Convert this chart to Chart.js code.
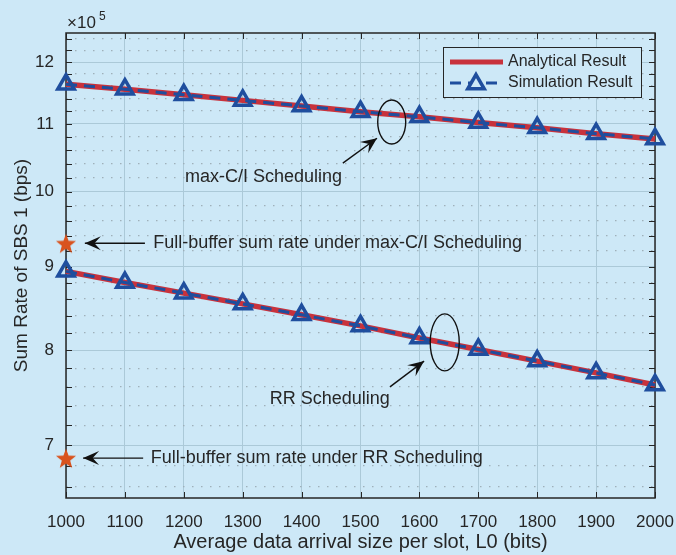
<!DOCTYPE html>
<html>
<head>
<meta charset="utf-8">
<script src="https://cdn.jsdelivr.net/npm/chart.js@4.4.1/dist/chart.umd.min.js"></script>
<style>
  html, body { margin: 0; padding: 0; background: #cde8f7; }
  #wrap { width: 676px; height: 555px; }
</style>
</head>
<body>
<div id="wrap"><canvas id="chart" width="676" height="555"></canvas></div>
<script>
// 横轴：平均每时隙到达数据量 L0 (bits)
const arrivalSizes = [1000, 1100, 1200, 1300, 1400, 1500, 1600, 1700, 1800, 1900, 2000];

// 纵轴数值（单位 ×10^5 bps）
const analyticalMaxCI = [11.63, 11.55, 11.46, 11.37, 11.28, 11.19, 11.11, 11.02, 10.94, 10.85, 10.77];
const simulationMaxCI = [11.63, 11.55, 11.46, 11.37, 11.28, 11.19, 11.11, 11.02, 10.94, 10.85, 10.77];
const analyticalRR = [8.94, 8.80, 8.67, 8.54, 8.41, 8.28, 8.14, 8.01, 7.88, 7.75, 7.62];
const simulationRR = [8.94, 8.80, 8.67, 8.54, 8.41, 8.28, 8.14, 8.01, 7.88, 7.75, 7.62];

// full-buffer 参考点（星号）
const fullBufferX = [1000, 1000];
const fullBufferY = [9.30, 6.875];

// 刻度
const yMajorTicks = [7, 8, 9, 10, 11, 12];
const yRange = [6.5, 12.5];
const xRange = [1000, 2000];

const SCALE = 1e5;
const FONT = "'Liberation Sans', Arial, Helvetica, sans-serif";
const TEXT = "#262626";
const BG = "#cde8f7";
const RED = "#c8323c";
const BLUE = "#1f4e9e";
const ORANGE = "#d9531e";

const toPts = (ys) => arrivalSizes.map((x, i) => ({ x, y: ys[i] * SCALE }));

// 注释（数据坐标）
const notes = {
    ellipses: [
        { x: 1553, y: 11.03, rx: 14, ry: 22 },
        { x: 1643, y: 8.09, rx: 14.5, ry: 28.5 }
    ],
    arrows: [
        { from: [1470, 10.41], to: [1528, 10.78] },
        { from: [1550, 7.60], to: [1608, 7.88] },
        { from: [1134, 9.30], to: [1032, 9.30] },
        { from: [1131, 6.875], to: [1029, 6.875] }
    ],
    texts: [
        { x: 1202, y: 10.21, text: "max-C/I Scheduling" },
        { x: 1346, y: 7.47, text: "RR Scheduling" },
        { x: 1148, y: 9.30, text: "Full-buffer sum rate under max-C/I Scheduling" },
        { x: 1144, y: 6.875, text: "Full-buffer sum rate under RR Scheduling" }
    ]
};

// 五角星
function makeStar(size, color) {
    const c = document.createElement("canvas");
    c.width = c.height = size;
    const g = c.getContext("2d");
    g.fillStyle = color;
    g.beginPath();
    for (let i = 0; i < 10; i++) {
        const r = i % 2 ? size * 0.2 : size * 0.48;
        const a = -Math.PI / 2 + i * Math.PI / 5;
        g.lineTo(size / 2 + r * Math.cos(a), size / 2 + r * Math.sin(a) + size * 0.05);
    }
    g.closePath();
    g.fill();
    return c;
}
const starImg = makeStar(22, ORANGE);

// 生成 y 轴刻度（主刻度 + 0.2 间隔次刻度）
const yTickValues = [];
for (let v = 66; v <= 124; v += 2) yTickValues.push(v / 10);
const isMajor = (val) => yMajorTicks.some(m => Math.abs(m * SCALE - val) < 1);

function arrowHead(ctx, x1, y1, x2, y2) {
    const ang = Math.atan2(y2 - y1, x2 - x1);
    const L = 16, W = 7;
    ctx.save();
    ctx.translate(x2, y2);
    ctx.rotate(ang);
    ctx.beginPath();
    ctx.moveTo(0, 0);
    ctx.lineTo(-L, -W);
    ctx.lineTo(-L * 0.6, 0);
    ctx.lineTo(-L, W);
    ctx.closePath();
    ctx.fill();
    ctx.restore();
}

const decor = {
    id: "decor",
    beforeDraw(chart) {
        const ctx = chart.ctx;
        ctx.save();
        ctx.fillStyle = BG;
        ctx.fillRect(0, 0, chart.width, chart.height);
        ctx.restore();
    },
    beforeDatasetsDraw(chart) {
        const { ctx, chartArea: a, scales } = chart;
        ctx.save();
        ctx.strokeStyle = TEXT;
        ctx.lineWidth = 1;
        // 内向刻度线（四边）
        const tl = 6;
        ctx.beginPath();
        scales.x.ticks.forEach(t => {
            const px = Math.round(scales.x.getPixelForValue(t.value)) + 0.5;
            ctx.moveTo(px, a.bottom); ctx.lineTo(px, a.bottom - tl);
            ctx.moveTo(px, a.top); ctx.lineTo(px, a.top + tl);
        });
        scales.y.ticks.forEach(t => {
            const py = Math.round(scales.y.getPixelForValue(t.value)) + 0.5;
            ctx.moveTo(a.left, py); ctx.lineTo(a.left + tl, py);
            ctx.moveTo(a.right, py); ctx.lineTo(a.right - tl, py);
        });
        ctx.stroke();
        // 边框
        ctx.lineWidth = 1.5;
        ctx.strokeRect(a.left, a.top, a.right - a.left, a.bottom - a.top);
        ctx.restore();
    },
    afterDraw(chart) {
        const { ctx, chartArea: a, scales } = chart;
        const px = (v) => scales.x.getPixelForValue(v);
        const py = (v) => scales.y.getPixelForValue(v * SCALE);
        ctx.save();
        ctx.strokeStyle = "#111";
        ctx.fillStyle = "#111";
        // 椭圆
        ctx.lineWidth = 1.4;
        notes.ellipses.forEach(e => {
            ctx.beginPath();
            ctx.ellipse(px(e.x), py(e.y), e.rx, e.ry, 0, 0, Math.PI * 2);
            ctx.stroke();
        });
        // 箭头
        notes.arrows.forEach(ar => {
            const x1 = px(ar.from[0]), y1 = py(ar.from[1]);
            const x2 = px(ar.to[0]), y2 = py(ar.to[1]);
            ctx.lineWidth = 1.4;
            ctx.beginPath();
            ctx.moveTo(x1, y1);
            ctx.lineTo(x2, y2);
            ctx.stroke();
            arrowHead(ctx, x1, y1, x2, y2);
        });
        // 文本
        ctx.fillStyle = TEXT;
        ctx.font = "18px " + FONT;
        ctx.textBaseline = "middle";
        ctx.textAlign = "left";
        notes.texts.forEach(t => ctx.fillText(t.text, px(t.x), py(t.y)));

        // ×10^5
        ctx.font = "17px " + FONT;
        ctx.textBaseline = "alphabetic";
        ctx.fillText("\u00d710", a.left + 1, 28);
        ctx.font = "12px " + FONT;
        ctx.fillText("5", a.left + 33, 20);

        // 图例
        const lx = 443, ly = 47, lw = 198, lh = 50;
        ctx.fillStyle = BG;
        ctx.fillRect(lx, ly, lw, lh);
        ctx.strokeStyle = TEXT;
        ctx.lineWidth = 1;
        ctx.strokeRect(lx + 0.5, ly + 0.5, lw, lh);
        ctx.strokeStyle = RED;
        ctx.lineWidth = 5;
        ctx.beginPath(); ctx.moveTo(450, 62); ctx.lineTo(503, 62); ctx.stroke();
        ctx.strokeStyle = BLUE;
        ctx.lineWidth = 3;
        ctx.setLineDash([11, 7]);
        ctx.beginPath(); ctx.moveTo(450, 83); ctx.lineTo(503, 83); ctx.stroke();
        ctx.setLineDash([]);
        ctx.lineWidth = 3.5;
        ctx.beginPath();
        const r = 9.5, cx = 476, cy = 84;
        for (let i = 0; i < 3; i++) {
            const ang = -Math.PI / 2 + i * 2 * Math.PI / 3;
            ctx.lineTo(cx + r * Math.cos(ang), cy + r * Math.sin(ang));
        }
        ctx.closePath();
        ctx.fillStyle = BG;
        ctx.fill();
        ctx.stroke();
        ctx.fillStyle = TEXT;
        ctx.font = "16px " + FONT;
        ctx.textBaseline = "middle";
        ctx.fillText("Analytical Result", 508, 62);
        ctx.fillText("Simulation Result", 508, 83);
        ctx.restore();
    }
};

const simStyle = {
    borderColor: BLUE,
    borderWidth: 3,
    borderDash: [11, 7],
    pointStyle: "triangle",
    pointRadius: 9.5,
    pointBorderWidth: 3.5,
    pointBorderColor: BLUE,
    pointBackgroundColor: "rgba(0,0,0,0)",
    fill: false,
    tension: 0,
    clip: false
};
const anaStyle = {
    borderColor: RED,
    borderWidth: 5.5,
    pointRadius: 0,
    fill: false,
    tension: 0,
    clip: false
};

new Chart(document.getElementById("chart"), {
    type: "line",
    data: {
        datasets: [
            { label: "Full-buffer", data: fullBufferX.map((x, i) => ({ x, y: fullBufferY[i] * SCALE })),
              showLine: false, pointStyle: starImg, pointRadius: 10, clip: false, order: 0 },
            Object.assign({ label: "Simulation Result", data: toPts(simulationMaxCI), order: 1 }, simStyle),
            Object.assign({ label: "Simulation Result", data: toPts(simulationRR), order: 1 }, simStyle),
            Object.assign({ label: "Analytical Result", data: toPts(analyticalMaxCI), order: 2 }, anaStyle),
            Object.assign({ label: "Analytical Result", data: toPts(analyticalRR), order: 2 }, anaStyle)
        ]
    },
    options: {
        responsive: false,
        animation: false,
        devicePixelRatio: 1,
        layout: { padding: { top: 33, right: 21, left: 0, bottom: 0 } },
        plugins: { legend: { display: false }, tooltip: { enabled: false } },
        scales: {
            x: {
                type: "linear",
                min: xRange[0],
                max: xRange[1],
                ticks: {
                    stepSize: 100,
                    color: TEXT,
                    font: { family: FONT, size: 17 },
                    padding: 14,
                    maxRotation: 0,
                    callback: (v) => String(v)
                },
                grid: { color: "#abc9d8", lineWidth: 1, drawTicks: false },
                border: { display: false },
                title: {
                    display: true,
                    text: "Average data arrival size per slot, L0 (bits)",
                    color: TEXT,
                    font: { family: FONT, size: 20 },
                    padding: { top: 0, bottom: 1 }
                },
                afterFit: (s) => { s.height = 57; s.paddingLeft = 0; s.paddingRight = 0; }
            },
            y: {
                type: "logarithmic",
                min: yRange[0] * SCALE,
                max: yRange[1] * SCALE,
                afterBuildTicks: (s) => {
                    s.ticks = yTickValues.map(v => ({ value: Math.round(v * SCALE) }));
                },
                ticks: {
                    color: TEXT,
                    font: { family: FONT, size: 17 },
                    padding: 12,
                    autoSkip: false,
                    callback: (val) => isMajor(val) ? String(Math.round(val / SCALE)) : ""
                },
                grid: {
                    drawTicks: false,
                    color: (c) => c.tick && isMajor(c.tick.value) ? "#abc9d8" : "#9fb0ba",
                    lineWidth: (c) => c.tick && isMajor(c.tick.value) ? 1 : 1.3
                },
                border: {
                    display: false,
                    dash: (c) => c.tick && isMajor(c.tick.value) ? [] : [1.5, 7.5]
                },
                title: {
                    display: true,
                    text: "Sum Rate of SBS 1 (bps)",
                    color: TEXT,
                    font: { family: FONT, size: 19 },
                    padding: { top: 10, bottom: 0 }
                },
                afterFit: (s) => { s.width = 66; s.paddingTop = 0; s.paddingBottom = 0; }
            }
        }
    },
    plugins: [decor]
});
</script>
</body>
</html>
